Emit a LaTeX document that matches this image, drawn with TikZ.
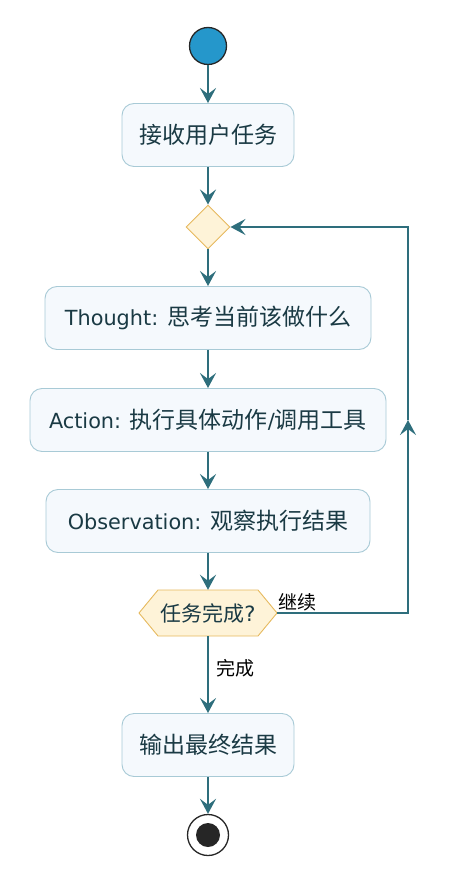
\documentclass[tikz,border=0pt]{standalone}
\usepackage{fontspec}
\setmainfont{Noto Sans CJK SC}
\newfontfamily\lat{DejaVu Sans}
\usetikzlibrary{arrows.meta,shapes.geometric}
\definecolor{linec}{HTML}{2E6E7C}
\definecolor{boxfill}{HTML}{F5F9FD}
\definecolor{boxdraw}{HTML}{A8CAD6}
\definecolor{txtc}{HTML}{1A3A44}
\definecolor{decfill}{HTML}{FEF3D8}
\definecolor{decdraw}{HTML}{E6B95E}
\definecolor{startc}{HTML}{2597CB}
\newcommand{\lt}[1]{{\lat\fontsize{20.8}{23}\selectfont #1}}
\tikzset{
  actbox/.style={draw=boxdraw, fill=boxfill, line width=0.9pt, rounded corners=12pt,
    minimum height=63pt, inner sep=0pt, text=txtc, font=\fontsize{23}{25}\selectfont},
  decbox/.style={diamond, draw=decdraw, fill=decfill, line width=0.9pt, minimum width=44pt,
    minimum height=44pt, inner sep=0pt, shape aspect=1},
  flow/.style={draw=linec, line width=2.2pt, -{Stealth[length=15pt,width=16pt,inset=6pt]}},
  lbl/.style={text=black, font=\fontsize{19}{22}\selectfont, inner sep=0pt}
}
\begin{document}
\begin{tikzpicture}[x=1pt,y=-1pt]
\useasboundingbox (0,0) rectangle (473,893);
\node[circle, fill=startc, draw=black!85, line width=1.3pt, minimum size=37pt, inner sep=0pt] (start) at (208,46) {};
\node[actbox, minimum width=172pt] (n1) at (208,135) {接收用户任务};
\node[decbox] (d1) at (208,227) {};
\node[actbox, minimum width=326pt] (th) at (208,318) {\lt{Thought: }思考当前该做什么};
\node[actbox, minimum width=356pt] (ac) at (208,420) {\lt{Action: }执行具体动作\lt{/}调用工具};
\node[actbox, minimum width=324pt] (ob) at (208,521) {\lt{Observation: }观察执行结果};
\path[draw=decdraw, fill=decfill, line width=0.9pt] (139,613) -- (158,590) -- (258,590) -- (277,613) -- (258,636) -- (158,636) -- cycle;
\node[minimum width=138pt, minimum height=46pt, inner sep=0pt, text=txtc, font=\fontsize{21}{23}\selectfont] (hex) at (208,613) {任务完成{\lat ?}};
\node[actbox, minimum width=172pt] (out) at (208,745) {输出最终结果};
\node[circle, fill=white, draw=black!85, line width=1.3pt, minimum size=41pt, inner sep=0pt] (end) at (208,835) {};
\node[circle, fill=black!85, minimum size=24pt, inner sep=0pt] (endin) at (end.center) {};
\coordinate (loopA) at (408,613);
\coordinate (loopM) at (408,420);
\coordinate (loopB) at (408,227);
\draw[flow] (start) -- (n1);
\draw[flow] (n1) -- (d1);
\draw[flow] (d1) -- (th);
\draw[flow] (th) -- (ac);
\draw[flow] (ac) -- (ob);
\draw[flow] (ob) -- (hex);
\draw[flow] (hex) -- (out);
\draw[flow] (out) -- (end);
\draw[flow] (hex.east) -- (loopA) -- (loopM);
\draw[flow] (loopM) -- (loopB) -- (d1.east);
\node[lbl, anchor=south west] (lc) at (278,611) {继续};
\node[lbl, anchor=west] (ld) at (216,668) {完成};
\end{tikzpicture}
\end{document}
